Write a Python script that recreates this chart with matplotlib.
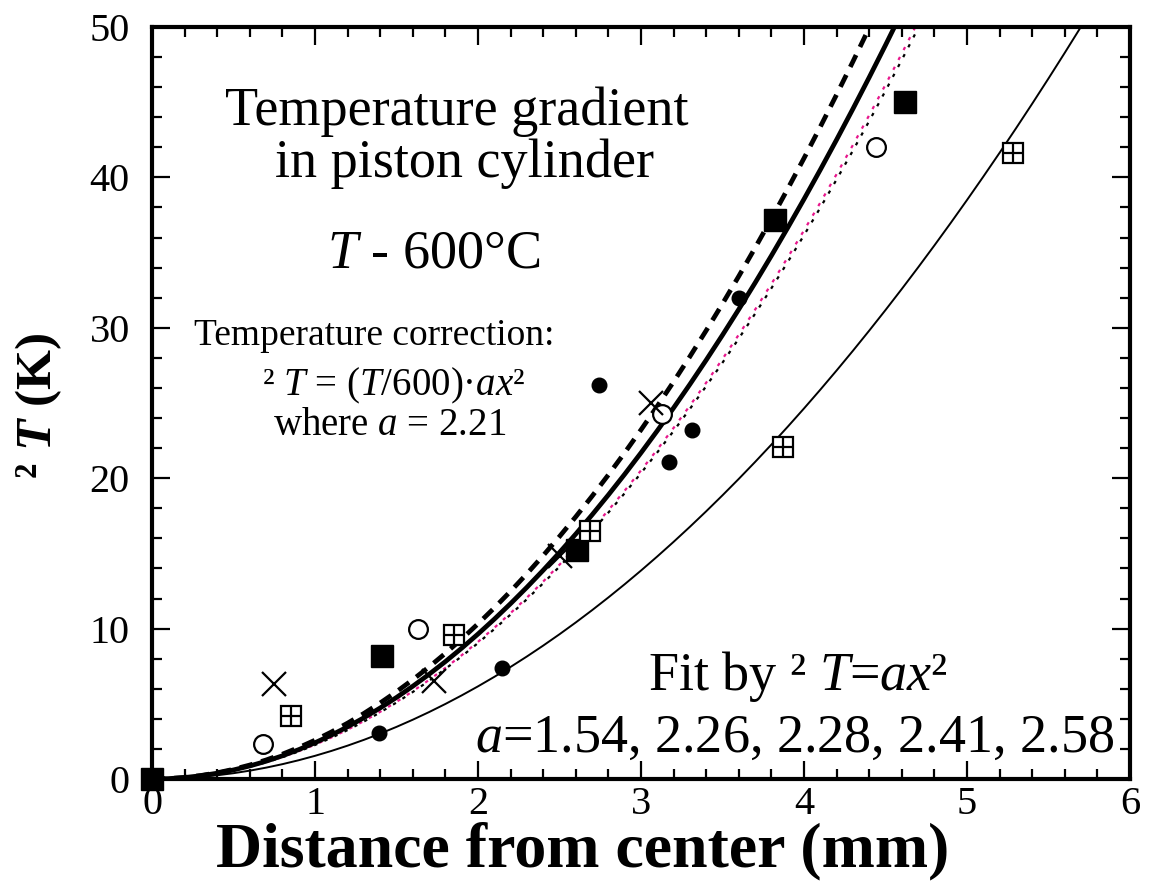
import numpy as np
import matplotlib.pyplot as plt

plt.rcParams['font.family'] = ['Liberation Serif', 'DejaVu Serif']
plt.rcParams['mathtext.fontset'] = 'custom'
plt.rcParams['mathtext.rm'] = 'Liberation Serif'
plt.rcParams['mathtext.it'] = 'Liberation Serif:italic'
plt.rcParams['mathtext.bf'] = 'Liberation Serif:bold'
plt.rcParams['mathtext.bfit'] = 'Liberation Serif:italic:bold'

# measured points (distance mm, delta T K)
sq_fill_x = [0.0, 1.41, 2.61, 3.82, 4.62]
sq_fill_y = [0.0, 8.2, 15.2, 37.2, 45.0]

dot_x = [1.39, 2.15, 2.74, 3.17, 3.31, 3.60]
dot_y = [3.05, 7.4, 26.2, 21.1, 23.2, 32.0]

circ_x = [0.68, 1.63, 3.13, 4.44]
circ_y = [2.3, 10.0, 24.3, 42.0]

cross_x = [0.75, 1.73, 2.50, 3.06]
cross_y = [6.3, 6.5, 14.8, 25.0]

grid_x = [0.85, 1.85, 2.69, 3.87, 5.28]
grid_y = [4.2, 9.6, 16.5, 22.1, 41.6]

# fit coefficients for dT = a x^2
fit_a = [1.54, 2.26, 2.28, 2.41, 2.58]
fit_styles = [
    dict(color='black', lw=1.4, ls='-'),
    dict(color='black', lw=1.6, ls=(0, (1.5, 3.5))),
    dict(color='#e8168c', lw=1.6, ls=(2.5, (1.5, 3.5))),
    dict(color='black', lw=3.4, ls='-'),
    dict(color='black', lw=3.4, ls=(0, (2.8, 1.9))),
]

fig = plt.figure(figsize=(11.49, 8.92), dpi=100)
ax = fig.add_axes([0.1323, 0.1267, 0.8512, 0.843])

xs = np.linspace(0, 6, 61)
for a, st in zip(fit_a, fit_styles):
    ax.plot(xs, a * xs ** 2, **st)

ax.plot(sq_fill_x, sq_fill_y, 's', color='black', ms=15.5, ls='none', clip_on=False, zorder=5)
ax.plot(dot_x, dot_y, 'o', color='black', ms=10.5, ls='none', zorder=5)
ax.plot(circ_x, circ_y, 'o', mfc='white', mec='black', mew=1.6, ms=13.5, ls='none', zorder=5)
ax.plot(cross_x, cross_y, 'x', color='black', mew=1.6, ms=17, ls='none', zorder=5)
ax.plot(grid_x, grid_y, 's', mfc='white', mec='black', mew=1.6, ms=14, ls='none', zorder=5)
ax.plot(grid_x, grid_y, '+', color='black', mew=1.6, ms=14, ls='none', zorder=6)

ax.set_xlim(0, 6)
ax.set_ylim(0, 50)
ax.set_xticks(range(0, 7))
ax.set_yticks(range(0, 51, 10))
ax.set_xticks(np.arange(0, 6.01, 0.2), minor=True)
ax.set_yticks(np.arange(0, 50.1, 2), minor=True)
ax.tick_params(which='both', direction='in', top=True, right=True, width=1.6, labelsize=29)
ax.tick_params(which='major', length=13)
ax.tick_params(which='minor', length=7)
ax.tick_params(axis='y', pad=16)
ax.tick_params(axis='x', pad=5)
for s in ax.spines.values():
    s.set_linewidth(3)

ax.set_xlabel('Distance from center (mm)', fontsize=46, fontweight='bold')
ax.set_ylabel('² $\\mathbfit{T}$ (K)', fontsize=37, fontweight='bold')
ax.xaxis.set_label_coords(0.44, -0.057)
ax.yaxis.set_label_coords(-0.09, 0.496)

big = 39
ax.text(1.87, 43.5, 'Temperature gradient', fontsize=big, ha='center', va='baseline')
ax.text(1.92, 40.0, 'in piston cylinder', fontsize=big, ha='center', va='baseline')
ax.text(1.73, 34.0, '$T$ - 600°C', fontsize=big, ha='center', va='baseline')
ax.text(1.36, 28.85, 'Temperature correction:', fontsize=27, ha='center', va='baseline')
ax.text(1.48, 25.5, '² $T$ = ($T$/600)·$ax$²', fontsize=28, ha='center', va='baseline')
ax.text(1.46, 22.9, 'where $a$ = 2.21', fontsize=28, ha='center', va='baseline')
ax.text(3.96, 5.9, 'Fit by ² $T$=$ax$²', fontsize=big, ha='center', va='baseline')
ax.text(3.94, 1.8, '$a$=1.54, 2.26, 2.28, 2.41, 2.58', fontsize=big, ha='center', va='baseline')

fig.savefig('out.png', dpi=100)
